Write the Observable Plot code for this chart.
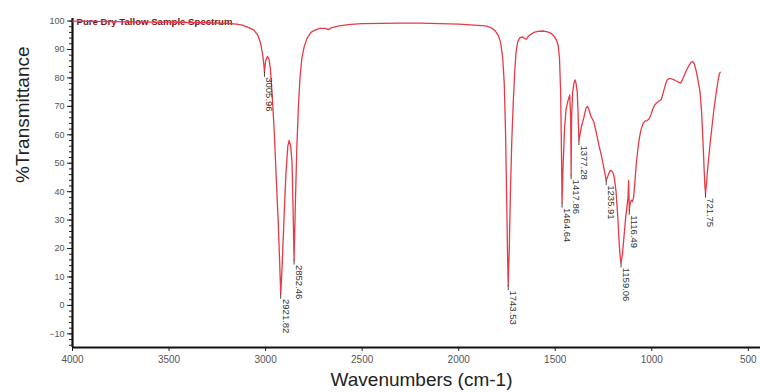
<!DOCTYPE html>
<html>
<head>
<meta charset="utf-8">
<script src="https://cdn.jsdelivr.net/npm/d3@7"></script>
<script src="https://cdn.jsdelivr.net/npm/@observablehq/plot@0.6"></script>
<style>
  html, body { margin: 0; padding: 0; background: #fff; }
</style>
</head>
<body>
<div id="chart"></div>
<script>
// Spectrum: wavenumber (cm-1) and %Transmittance
const wavenumber = [
  4000, 3900, 3800, 3700, 3600, 3500, 3400, 3300, 3200, 3150, 3120, 3090, 3060, 3040, 3025, 3015, 3008,
  3005.96, 3000, 2990, 2982, 2975, 2965, 2955, 2945, 2935, 2927, 2921.82, 2915, 2905, 2895, 2885, 2878,
  2870, 2863, 2858, 2852.46, 2845, 2838, 2830, 2822, 2812, 2800, 2785, 2765, 2745, 2720, 2690, 2675,
  2660, 2620, 2560, 2500, 2400, 2300, 2200, 2100, 2000, 1920, 1860, 1830, 1810, 1795, 1783, 1772, 1764,
  1757, 1751, 1747, 1743.53, 1738, 1732, 1725, 1717, 1710, 1703, 1695, 1685, 1670, 1658, 1650, 1642,
  1630, 1610, 1590, 1560, 1540, 1520, 1505, 1495, 1485, 1478, 1472, 1468, 1464.64, 1460, 1452, 1444,
  1434, 1425, 1420, 1417.86, 1415, 1410, 1402, 1397, 1392, 1386, 1382, 1377.28, 1372, 1364, 1352, 1340,
  1334, 1326, 1315, 1300, 1288, 1276, 1262, 1250, 1240, 1235.91, 1230, 1222, 1215, 1208, 1200, 1193,
  1185, 1176, 1168, 1163, 1159.06, 1152, 1143, 1135, 1128, 1123, 1120, 1118, 1116.49, 1112, 1106, 1100,
  1094, 1088, 1080, 1072, 1064, 1055, 1045, 1035, 1025, 1015, 1005, 995, 985, 975, 960, 950, 940, 928,
  918, 905, 890, 875, 862, 850, 840, 825, 810, 797, 788, 780, 770, 760, 750, 742, 735, 729, 725, 721.75,
  718, 712, 705, 698, 688, 678, 668, 658, 650, 645
];
const transmittance = [
  100, 99.9, 99.8, 99.7, 99.6, 99.6, 99.5, 99.4, 99.2, 98.9, 98.6, 97.8, 96.8, 95, 92, 88, 84,
  82, 86, 87.5, 86.5, 83, 73, 61, 45, 30, 15, 4, 13, 30, 46, 56, 58,
  56, 50, 35, 16, 38, 56, 70, 80, 87, 91, 94, 96, 96.8, 97.4, 97.4, 97,
  97.6, 98.3, 98.8, 99.1, 99.2, 99.3, 99.3, 99.1, 98.9, 98.6, 98.3, 97.6, 96.5, 95, 92.5, 87, 78,
  60, 35, 18, 7, 20, 40, 58, 72, 82, 89, 92.5, 94, 94.5, 93.8, 93.6, 94.4,
  95.2, 96, 96.4, 96.5, 96.2, 95.6, 94.6, 93.5, 91.5, 87, 75, 55, 36, 48, 62, 69,
  72, 74, 66, 46, 66, 75, 78.5, 79.3, 78, 75, 68, 58, 60, 63, 66, 69.5,
  70, 69, 66.5, 64.5, 61, 57, 53, 49, 45.5, 44, 45, 46.5, 47.5, 47.3, 46.5, 44.5,
  40, 31, 21, 16.5, 15, 18, 25, 31, 35, 38, 44, 38, 33.5, 36, 37, 36.5,
  38, 43, 50, 55, 59, 62, 64, 64.8, 65, 65.5, 67, 69, 70.5, 71.2, 72, 72.5, 75, 78,
  79.5, 79.8, 79.5, 79, 78.5, 78.2, 79.5, 82, 84, 85.5, 85.7, 85, 82.5, 79, 75, 68, 58, 48, 42, 39.5,
  42, 47, 52, 57, 63, 69, 74, 78.5, 81.5, 82
];

// Labelled peaks
const peakWavenumbers = [3005.96, 2921.82, 2852.46, 1743.53, 1464.64, 1417.86, 1377.28, 1235.91, 1159.06, 1116.49, 721.75];

// Axis ticks
const xTicks = [4000, 3500, 3000, 2500, 2000, 1500, 1000, 500];
const yTicks = [-10, 0, 10, 20, 30, 40, 50, 60, 70, 80, 90, 100];
const yMinorTicks = d3.range(-14, 101, 2);
const xDomain = [4000, 437];
const yDomain = [-14.8, 100.9];

const titleText = "Pure Dry Tallow Sample Spectrum";
const xLabel = "Wavenumbers (cm-1)";
const yLabel = "%Transmittance";

const spectrum = wavenumber.map((wn, i) => ({wn, t: transmittance[i]}));
const peaks = peakWavenumbers.map(wn => ({wn, t: transmittance[wavenumber.indexOf(wn)]}));

const chart = Plot.plot({
  width: 760,
  height: 392,
  marginLeft: 72,
  marginRight: 0,
  marginTop: 18,
  marginBottom: 45,
  style: {fontFamily: "'Liberation Sans', Arial, sans-serif", background: "#fff", overflow: "visible"},
  x: {domain: xDomain},
  y: {domain: yDomain},
  marks: [
    Plot.axisY(yMinorTicks, {tickSize: 3, tickFormat: () => "", label: null, stroke: "#222"}),
    Plot.axisY(yTicks, {tickSize: 5, tickPadding: 3, fontSize: 9, fill: "#555", label: null, stroke: "#222"}),
    Plot.axisX(xTicks, {tickSize: 4, tickPadding: 4, fontSize: 10, fill: "#555", label: null, stroke: "#222", tickFormat: d => String(d)}),
    Plot.ruleY([yDomain[0]], {stroke: "#111", strokeWidth: 2.2}),
    Plot.ruleX([xDomain[0]], {stroke: "#111", strokeWidth: 2.2}),
    Plot.text([titleText], {frameAnchor: "top-left", dx: 4, dy: 0, fontSize: 8.5, fontWeight: "bold", fill: "#7a1424", className: "spec-title"}),
    Plot.line(spectrum, {x: "wn", y: "t", stroke: "#e63a46", strokeWidth: 1.3}),
    Plot.ruleX(peaks, {x: "wn", y1: "t", y2: d => d.t - 1.8, stroke: "#333", strokeWidth: 0.9}),
    Plot.text(peaks, {x: "wn", y: "t", text: d => d.wn.toFixed(2), rotate: 90, textAnchor: "start", dx: 5, dy: 5, fontSize: 9.5, fill: "#333"}),
    Plot.text([xLabel], {frameAnchor: "bottom", dx: 5, dy: 38, fontSize: 19, fill: "#222"}),
    Plot.text([yLabel], {frameAnchor: "left", rotate: -90, dx: -50, fontSize: 19, fill: "#222"})
  ]
});
d3.select(chart).selectAll(".spec-title text").attr("textLength", 156).attr("lengthAdjust", "spacingAndGlyphs");
document.getElementById("chart").appendChild(chart);
</script>
</body>
</html>
